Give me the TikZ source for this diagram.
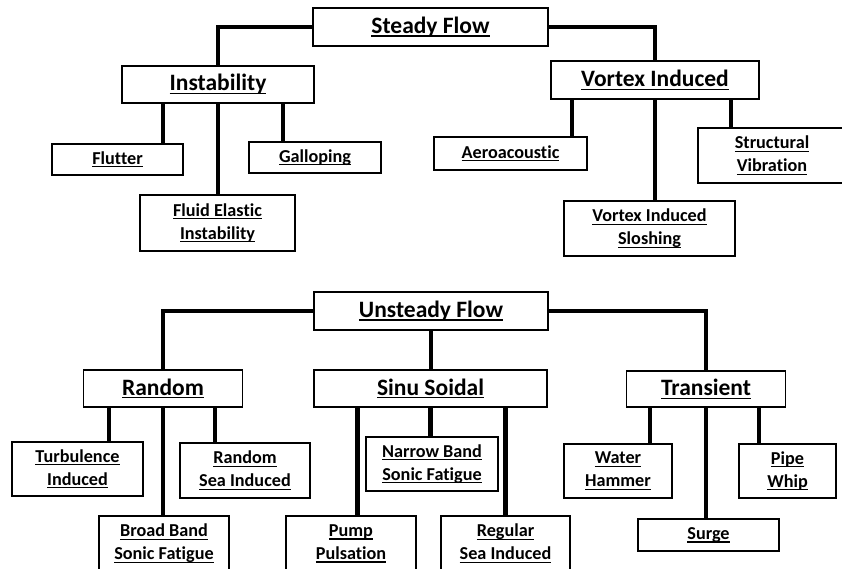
\documentclass[tikz,border=0pt]{standalone}
\usepackage{fontspec}
\setmainfont{Carlito}[Ligatures=NoCommon]
\usepackage{tikz}
\usetikzlibrary{arrows.meta, positioning, calc}
\newsavebox{\ulbox}
\newcommand{\ulbl}[1]{\sbox{\ulbox}{#1}\rlap{\raisebox{-3.2pt}{\rule{\wd\ulbox}{1.3pt}}}\usebox{\ulbox}}
\tikzset{
  box/.style={draw, line width=1.6pt, inner sep=0pt, align=center, font=\bfseries\fontsize{18.2}{23}\selectfont},
  topbox/.style={box, font=\bfseries\fontsize{23.5}{28}\selectfont},
  conn/.style={line width=4.6pt, line join=miter},
}

\begin{document}
\begin{tikzpicture}[x=1pt, y=-1pt]
  \clip (0,0) rectangle (842,568);
  \fill[white] (0,0) rectangle (842,568);
  % steady flow
  \node[topbox, minimum width=235, minimum height=38] (steady) at (430.5,27) {\ulbl{Steady Flow}};
  \node[topbox, minimum width=192, minimum height=37] (instab) at (218,84.5) {\ulbl{Instability}};
  \node[topbox, minimum width=208, minimum height=38] (vortex) at (655,80) {\ulbl{Vortex Induced}};
  \node[box, minimum width=131, minimum height=31] (flutter) at (117.5,159.5) {\ulbl{Flutter}};
  \node[box, minimum width=132, minimum height=31] (gallop) at (315,157.5) {\ulbl{Galloping}};
  \node[box, minimum width=155, minimum height=56] (fluid) at (217.5,223) {\ulbl{Fluid Elastic}\\\ulbl{Instability}};
  \node[box, minimum width=153, minimum height=33] (aero) at (510.5,153.5) {\ulbl{Aeroacoustic}};
  \node[box, minimum width=148, minimum height=55] (struct) at (772,155.5) {\ulbl{Structural}\\\ulbl{Vibration}};
  \node[box, minimum width=171, minimum height=55] (slosh) at (649.5,228.5) {\ulbl{Vortex Induced}\\\ulbl{Sloshing}};
  % unsteady flow
  \node[topbox, minimum width=234, minimum height=38] (unsteady) at (431,311) {\ulbl{Unsteady Flow}};
  \node[topbox, minimum width=159, minimum height=37] (random) at (163,388.5) {\ulbl{Random}};
  \node[topbox, minimum width=233, minimum height=37] (sinu) at (430.5,388.5) {\ulbl{Sinu Soidal}};
  \node[topbox, minimum width=159, minimum height=36] (transient) at (706,389) {\ulbl{Transient}};
  \node[box, minimum width=131, minimum height=54] (turb) at (77.5,469) {\ulbl{Turbulence}\\\ulbl{Induced}};
  \node[box, minimum width=130, minimum height=55] (rsea) at (245,470.5) {\ulbl{Random}\\\ulbl{Sea Induced}};
  \node[box, minimum width=130, minimum height=55] (broad) at (164,543.5) {\ulbl{Broad Band}\\\ulbl{Sonic Fatigue}};
  \node[box, minimum width=130, minimum height=55] (pump) at (351,543.5) {\ulbl{Pump}\\\ulbl{Pulsation}};
  \node[box, minimum width=132, minimum height=54] (narrow) at (432,464) {\ulbl{Narrow Band}\\\ulbl{Sonic Fatigue}};
  \node[box, minimum width=129, minimum height=55] (regular) at (505.5,543.5) {\ulbl{Regular}\\\ulbl{Sea Induced}};
  \node[box, minimum width=108, minimum height=54] (water) at (618,471) {\ulbl{Water}\\\ulbl{Hammer}};
  \node[box, minimum width=97, minimum height=54] (pipe) at (787.5,471) {\ulbl{Pipe}\\\ulbl{Whip}};
  \node[box, minimum width=141, minimum height=32] (surge) at (708.5,535) {\ulbl{Surge}};
  % connectors
  \draw[conn] (steady.west) -| (instab.north);
  \draw[conn] (steady.east) -| (vortex.north);
  \draw[conn] (unsteady.west) -| (random.north);
  \draw[conn] (unsteady.east) -| (transient.north);
  \draw[conn] (unsteady.south) -- (unsteady.south |- sinu.north);
  \foreach \p/\c/\dx in {instab/flutter/-55, instab/fluid/0, instab/gallop/65,
      vortex/aero/-83, vortex/slosh/0, vortex/struct/76,
      random/turb/-54, random/broad/0, random/rsea/52,
      sinu/pump/-73, sinu/narrow/0, sinu/regular/75,
      transient/water/-56, transient/surge/0, transient/pipe/53} {
    \draw[conn] ([xshift=\dx]\p.south) -- ([xshift=\dx]\p.south |- \c.north);
  }
\end{tikzpicture}
\end{document}
